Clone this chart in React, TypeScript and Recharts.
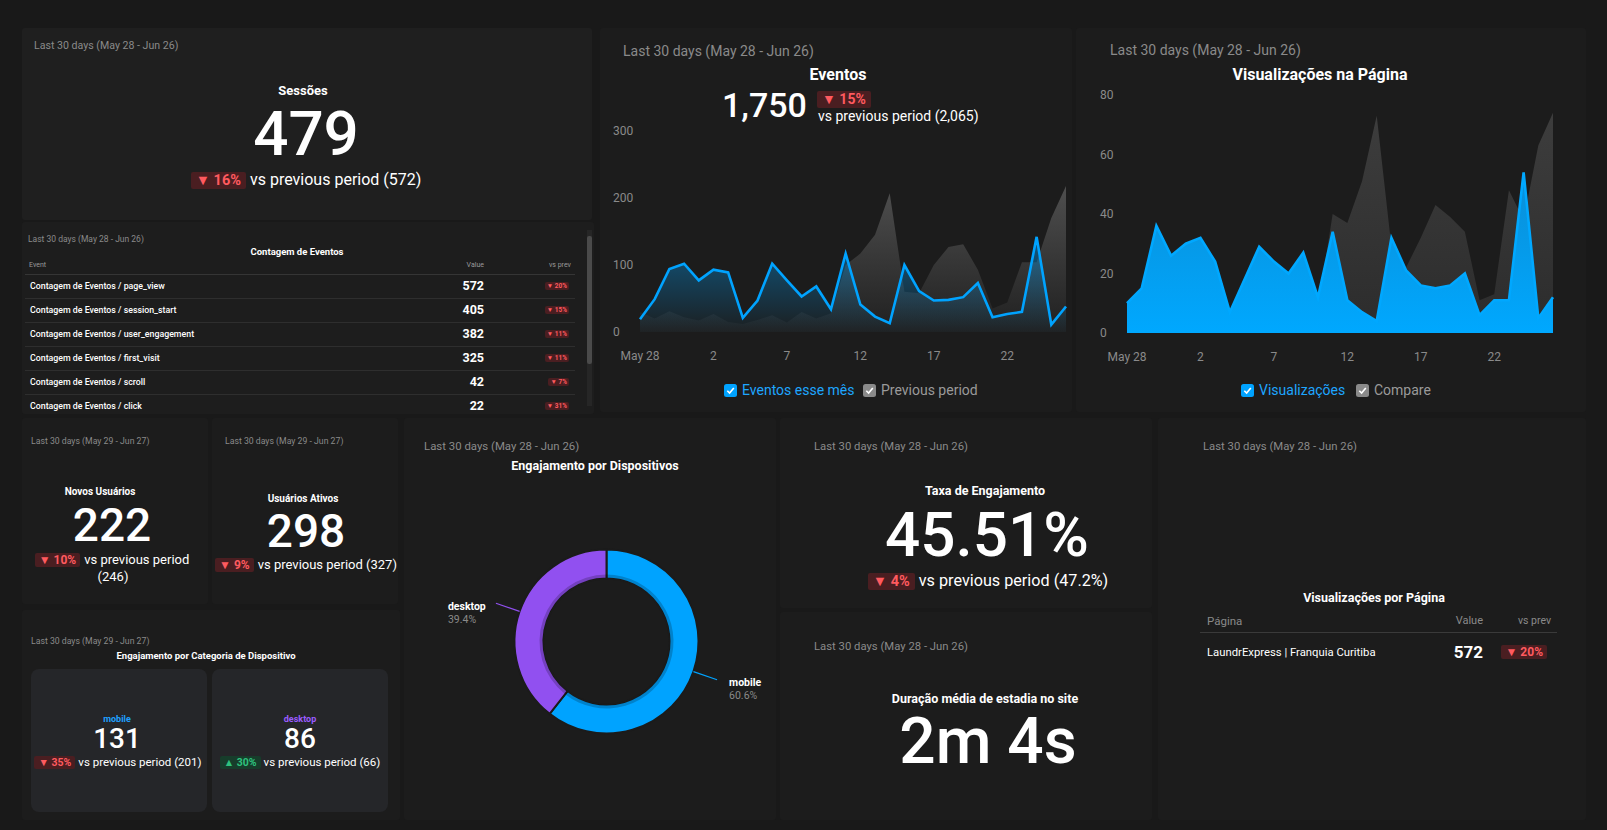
import React from 'react'
import { AreaChart, Area, XAxis, YAxis, PieChart, Pie, Cell } from 'recharts'

const FONT = 'Roboto, "Noto Sans", sans-serif'
const BLUE = '#00a3ff'
const PURPLE = '#9150f0'
const MUTED = '#8a8a8a'
const PAGE_BG = '#191919'
const CARD_BG = '#1c1c1c'

// daily series, May 28 - Jun 26
const dias = [
  'May 28', 'May 29', 'May 30', 'May 31',
  'Jun 1', 'Jun 2', 'Jun 3', 'Jun 4', 'Jun 5', 'Jun 6', 'Jun 7', 'Jun 8', 'Jun 9', 'Jun 10',
  'Jun 11', 'Jun 12', 'Jun 13', 'Jun 14', 'Jun 15', 'Jun 16', 'Jun 17', 'Jun 18', 'Jun 19', 'Jun 20',
  'Jun 21', 'Jun 22', 'Jun 23', 'Jun 24', 'Jun 25', 'Jun 26',
]
const eventosMes = [19, 49, 94, 102, 77, 93, 89, 21, 47, 102, 77, 53, 68, 34, 117, 41, 23, 13, 100, 61, 47, 48, 52, 73, 22, 27, 30, 142, 11, 38]
const eventosAnterior = [30, 20, 31, 22, 17, 27, 15, 12, 18, 25, 14, 30, 20, 28, 100, 117, 145, 207, 60, 58, 100, 127, 131, 93, 35, 44, 104, 104, 170, 218]
const visualizacoes = [10, 15, 36, 26, 30, 32, 24, 7, 18, 29, 24, 20, 27, 12, 34, 11, 7, 4, 32, 21, 16, 15, 16, 20, 6, 11, 11, 54, 5, 12]
const visualizacoesAnterior = [8, 6, 10, 5, 9, 7, 6, 4, 8, 7, 5, 9, 6, 8, 40, 37, 51, 73, 29, 22, 32, 43, 39, 34, 11, 13, 48, 38, 63, 74]
const eventosTicksY = [0, 100, 200, 300]
const visualizacoesTicksY = [0, 20, 40, 60, 80]

// Contagem de Eventos table
const eventoNomes = ['page_view', 'session_start', 'user_engagement', 'first_visit', 'scroll', 'click']
const eventoValores = [572, 405, 382, 325, 42, 22]
const eventoQueda = [20, 15, 11, 11, 7, 31]

// device split
const dispositivos = ['mobile', 'desktop']
const dispositivoPct = [60.6, 39.4]
const dispositivoCores = [BLUE, PURPLE]

const eventosData = dias.map((dia, i) => ({ dia, atual: eventosMes[i], anterior: eventosAnterior[i] }))
const visualizacoesData = dias.map((dia, i) => ({ dia, atual: visualizacoes[i], anterior: visualizacoesAnterior[i] }))
const dispositivosData = dispositivos.map((nome, i) => ({ nome, valor: dispositivoPct[i] }))

const diaLabel = (d: string) => (d === 'May 28' ? d : d.split(' ')[1])

type Anchor = 'start' | 'middle' | 'end'

function T({ x, y, size, anchor = 'start', weight = 400, color = '#fff', lh = 1.3, children }: {
  x: number; y: number; size: number; anchor?: Anchor; weight?: number; color?: string; lh?: number; children: React.ReactNode
}) {
  const h = Math.round(size * lh)
  const style: React.CSSProperties = {
    position: 'absolute', top: y - h / 2, height: h, lineHeight: `${h}px`,
    fontSize: size, fontWeight: weight, color, whiteSpace: 'nowrap', fontFamily: FONT,
  }
  if (anchor === 'start') style.left = x
  else if (anchor === 'middle') { style.left = x - 400; style.width = 800; style.textAlign = 'center' }
  else { style.left = x - 800; style.width = 800; style.textAlign = 'right' }
  return <div style={style}>{children}</div>
}

function Badge({ pct, up = false, size }: { pct: number; up?: boolean; size: number }) {
  return (
    <span style={{
      display: 'inline-block', background: up ? '#173d2b' : '#4a1e21', color: up ? '#2ec27e' : '#ff5a5f',
      fontWeight: 700, fontSize: size, lineHeight: `${Math.round(size * 1.2)}px`,
      padding: `0 ${Math.round(size * 0.35)}px`, borderRadius: 2, marginRight: Math.round(size * 0.3),
    }}>
      {up ? '▲' : '▼'} {pct}%
    </span>
  )
}

function Card({ x, y, w, h, bg = CARD_BG }: { x: number; y: number; w: number; h: number; bg?: string }) {
  return <div style={{ position: 'absolute', left: x, top: y, width: w, height: h, background: bg, borderRadius: 3 }} />
}

function Check({ x, y, color, label, textColor }: { x: number; y: number; color: string; label: string; textColor: string }) {
  return (
    <div style={{ position: 'absolute', left: x, top: y - 8, height: 16, display: 'flex', alignItems: 'center', fontFamily: FONT }}>
      <svg width={13} height={13} style={{ marginRight: 5 }}>
        <rect x={0} y={0} width={13} height={13} rx={2.5} fill={color} />
        <path d="M3.3 6.8 L5.6 9.1 L9.8 3.9" stroke="#fff" strokeWidth={1.6} fill="none" />
      </svg>
      <span style={{ color: textColor, fontSize: 14 }}>{label}</span>
    </div>
  )
}

const yTick = (labelX: number) => (p: any) => (
  <text x={labelX} y={p.y} dy={4} fill={MUTED} fontSize={12} fontFamily={FONT} textAnchor="start">
    {p.payload.value}
  </text>
)

function EventosChart() {
  return (
    <div style={{ position: 'absolute', left: 600, top: 110 }}>
      <AreaChart width={480} height={270} data={eventosData} margin={{ top: 21, right: 14, bottom: 18, left: 0 }}>
        <defs>
          <linearGradient id="gEvAtual" x1="0" y1="0" x2="0" y2="1">
            <stop offset="0%" stopColor={BLUE} stopOpacity={0.45} />
            <stop offset="100%" stopColor={BLUE} stopOpacity={0.02} />
          </linearGradient>
          <linearGradient id="gEvAnterior" x1="0" y1="0" x2="0" y2="1">
            <stop offset="0%" stopColor="#6a6a6a" stopOpacity={0.65} />
            <stop offset="100%" stopColor="#6a6a6a" stopOpacity={0.05} />
          </linearGradient>
        </defs>
        <XAxis dataKey="dia" interval={4} axisLine={false} tickLine={false} tickSize={0} tickMargin={19} height={30}
          tickFormatter={diaLabel} tick={{ fill: MUTED, fontSize: 12, fontFamily: FONT }} />
        <YAxis domain={[0, 300]} ticks={eventosTicksY} width={40} axisLine={false} tickLine={false} tickSize={0}
          tick={yTick(13)} />
        <Area type="linear" dataKey="anterior" stroke="none" fill="url(#gEvAnterior)" fillOpacity={1} isAnimationActive={false} />
        <Area type="linear" dataKey="atual" stroke={BLUE} strokeWidth={2.6} fill="url(#gEvAtual)" fillOpacity={1} isAnimationActive={false} />
      </AreaChart>
    </div>
  )
}

function VisualizacoesChart() {
  return (
    <div style={{ position: 'absolute', left: 1090, top: 80 }}>
      <AreaChart width={480} height={295} data={visualizacoesData} margin={{ top: 15, right: 17, bottom: 15, left: 0 }}>
        <defs>
          <linearGradient id="gVisAtual" x1="0" y1="0" x2="0" y2="1">
            <stop offset="0%" stopColor="#0a8ed6" />
            <stop offset="100%" stopColor="#00a8ff" />
          </linearGradient>
          <linearGradient id="gVisAnterior" x1="0" y1="0" x2="0" y2="1">
            <stop offset="0%" stopColor="#3d3d3d" />
            <stop offset="100%" stopColor="#2c2c2c" />
          </linearGradient>
        </defs>
        <XAxis dataKey="dia" interval={4} axisLine={false} tickLine={false} tickSize={0} tickMargin={19} height={27}
          tickFormatter={diaLabel} tick={{ fill: MUTED, fontSize: 12, fontFamily: FONT }} />
        <YAxis domain={[0, 80]} ticks={visualizacoesTicksY} width={37} axisLine={false} tickLine={false} tickSize={0}
          tick={yTick(10)} />
        <Area type="linear" dataKey="anterior" stroke="none" fill="url(#gVisAnterior)" fillOpacity={1} isAnimationActive={false} />
        <Area type="linear" dataKey="atual" stroke="#00a8ff" strokeWidth={2.6} fill="url(#gVisAtual)" fillOpacity={1} isAnimationActive={false} />
      </AreaChart>
    </div>
  )
}

const RADIAN = Math.PI / 180

function rotuloDispositivo(p: any) {
  const { cx, cy, midAngle, outerRadius, index } = p
  const cos = Math.cos(-midAngle * RADIAN)
  const sin = Math.sin(-midAngle * RADIAN)
  const sx = cx + outerRadius * cos
  const sy = cy + outerRadius * sin
  const ex = cx + (outerRadius + 25) * cos
  const ey = cy + (outerRadius + 25) * sin
  const right = cos >= 0
  const tx = right ? ex + 12 : ex - 12 - 36
  return (
    <g key={`rot-${index}`}>
      <line x1={sx} y1={sy} x2={ex} y2={ey} stroke={dispositivoCores[index]} strokeWidth={1.2} />
      <text x={tx} y={ey + 6.7} fill="#fff" fontSize={10.5} fontWeight={700} fontFamily={FONT}>{dispositivos[index]}</text>
      <text x={tx} y={ey + 19.7} fill={MUTED} fontSize={10.5} fontFamily={FONT}>{dispositivoPct[index]}%</text>
    </g>
  )
}

function DispositivosDonut() {
  return (
    <div style={{ position: 'absolute', left: 403, top: 418 }}>
      <PieChart width={372} height={400}>
        <Pie data={dispositivosData} dataKey="valor" nameKey="nome" cx={198.5} cy={218.5} innerRadius={63} outerRadius={92}
          startAngle={90} endAngle={-270} stroke="#1b1b1b" strokeWidth={2} label={rotuloDispositivo} labelLine={false}
          isAnimationActive={false}>
          {dispositivosData.map((d, i) => <Cell key={d.nome} fill={dispositivoCores[i]} />)}
        </Pie>
        <Pie data={dispositivosData} dataKey="valor" cx={198.5} cy={218.5} innerRadius={63.5} outerRadius={67}
          startAngle={90} endAngle={-270} stroke="none" isAnimationActive={false}>
          {dispositivosData.map((d) => <Cell key={d.nome} fill="#000" fillOpacity={0.2} />)}
        </Pie>
      </PieChart>
    </div>
  )
}

function TabelaEventos() {
  return (
    <div style={{ position: 'absolute', left: 22, top: 222, width: 572, height: 192, overflow: 'hidden' }}>
      <div style={{ position: 'absolute', left: -22, top: -222, width: 1607, height: 830 }}>
        <T x={28} y={239} size={8.5} color={MUTED}>Last 30 days (May 28 - Jun 26)</T>
        <T x={297} y={252} size={9.5} weight={700} anchor="middle">Contagem de Eventos</T>
        <T x={29} y={265} size={7} color="#9a9a9a">Event</T>
        <T x={484} y={265} size={7} color="#9a9a9a" anchor="end">Value</T>
        <T x={571} y={265} size={7} color="#9a9a9a" anchor="end">vs prev</T>
        <div style={{ position: 'absolute', left: 25, top: 274, width: 550, height: 1, background: '#353535' }} />
        {eventoNomes.map((nome, i) => (
          <React.Fragment key={nome}>
            <T x={30} y={286 + i * 24} size={8.8} weight={500}>Contagem de Eventos / {nome}</T>
            <T x={484} y={286 + i * 24} size={12.5} weight={700} anchor="end">{eventoValores[i]}</T>
            <T x={571} y={286 + i * 24} size={6.5} anchor="end"><Badge pct={eventoQueda[i]} size={6.5} /></T>
            {i < eventoNomes.length - 1 && (
              <div style={{ position: 'absolute', left: 25, top: 298 + i * 24, width: 550, height: 1, background: '#2e2e2e' }} />
            )}
          </React.Fragment>
        ))}
        <div style={{ position: 'absolute', left: 587, top: 230, width: 5, height: 176, background: '#262626' }} />
        <div style={{ position: 'absolute', left: 587, top: 236, width: 5, height: 128, background: '#4a4a4a', borderRadius: 2 }} />
      </div>
    </div>
  )
}

export default function App() {
  return (
    <div style={{ position: 'fixed', left: 0, top: 0, width: 1607, height: 830, background: PAGE_BG, fontFamily: FONT, overflow: 'hidden' }}>
      <Card x={22} y={28} w={570} h={192} bg="#1f1f1f" />
      <Card x={22} y={222} w={572} h={192} bg="#1d1d1d" />
      <Card x={600} y={28} w={472} h={384} />
      <Card x={1076} y={28} w={510} h={384} />
      <Card x={22} y={418} w={186} h={186} />
      <Card x={212} y={418} w={186} h={186} />
      <Card x={22} y={610} w={378} h={210} />
      <Card x={404} y={418} w={372} h={402} />
      <Card x={780} y={418} w={372} h={190} />
      <Card x={780} y={612} w={372} h={208} />
      <Card x={1158} y={418} w={428} h={402} />

      {/* Sessões */}
      <T x={34} y={46} size={10.6} color={MUTED}>Last 30 days (May 28 - Jun 26)</T>
      <T x={303} y={90} size={13} weight={700} anchor="middle">Sessões</T>
      <T x={306} y={134} size={62} weight={500} anchor="middle" lh={1}>479</T>
      <T x={306} y={179} size={16} anchor="middle"><Badge pct={16} size={14.5} />vs previous period (572)</T>

      <TabelaEventos />

      {/* Eventos */}
      <T x={623} y={51} size={14} color={MUTED}>Last 30 days (May 28 - Jun 26)</T>
      <T x={838} y={74} size={16} weight={700} anchor="middle">Eventos</T>
      <T x={722} y={105} size={34} weight={500}>1,750</T>
      <T x={817} y={99} size={14}><Badge pct={15} size={14} /></T>
      <T x={818} y={116} size={14}>vs previous period (2,065)</T>
      <EventosChart />
      <Check x={724} y={390} color={BLUE} label="Eventos esse mês" textColor="#1ea6ff" />
      <Check x={863} y={390} color="#8a8a8a" label="Previous period" textColor="#9a9a9a" />

      {/* Visualizações na Página */}
      <T x={1110} y={50} size={14} color={MUTED}>Last 30 days (May 28 - Jun 26)</T>
      <T x={1320} y={74} size={16} weight={700} anchor="middle">Visualizações na Página</T>
      <VisualizacoesChart />
      <Check x={1241} y={390} color={BLUE} label="Visualizações" textColor="#1ea6ff" />
      <Check x={1356} y={390} color="#8a8a8a" label="Compare" textColor="#9a9a9a" />

      {/* Novos Usuários */}
      <T x={31} y={441} size={8.7} color={MUTED}>Last 30 days (May 29 - Jun 27)</T>
      <T x={100} y={491} size={10} weight={700} anchor="middle">Novos Usuários</T>
      <T x={112} y={525} size={46} weight={500} anchor="middle" lh={1}>222</T>
      <T x={112} y={559} size={13} anchor="middle"><Badge pct={10} size={12} />vs previous period</T>
      <T x={113} y={576} size={13} anchor="middle">(246)</T>

      {/* Usuários Ativos */}
      <T x={225} y={441} size={8.7} color={MUTED}>Last 30 days (May 29 - Jun 27)</T>
      <T x={303} y={498} size={10} weight={700} anchor="middle">Usuários Ativos</T>
      <T x={306} y={531} size={46} weight={500} anchor="middle" lh={1}>298</T>
      <T x={306} y={564} size={13} anchor="middle"><Badge pct={9} size={12} />vs previous period (327)</T>

      {/* Engajamento por Categoria de Dispositivo */}
      <T x={31} y={641} size={8.7} color={MUTED}>Last 30 days (May 29 - Jun 27)</T>
      <T x={206} y={656} size={9.5} weight={700} anchor="middle">Engajamento por Categoria de Dispositivo</T>
      <div style={{ position: 'absolute', left: 31, top: 669, width: 176, height: 143, background: '#252629', borderRadius: 8 }} />
      <div style={{ position: 'absolute', left: 212, top: 669, width: 176, height: 143, background: '#252629', borderRadius: 8 }} />
      <T x={117} y={719} size={9} weight={700} color="#1ea0ff" anchor="middle" lh={1.1}>mobile</T>
      <T x={117} y={739} size={28} weight={500} anchor="middle" lh={0.85}>131</T>
      <T x={118} y={762} size={11.5} anchor="middle"><Badge pct={35} size={10.5} />vs previous period (201)</T>
      <T x={300} y={719} size={9} weight={700} color="#9b5cff" anchor="middle" lh={1.1}>desktop</T>
      <T x={300} y={739} size={28} weight={500} anchor="middle" lh={0.85}>86</T>
      <T x={300} y={762} size={11.5} anchor="middle"><Badge pct={30} up size={10.5} />vs previous period (66)</T>

      {/* Engajamento por Dispositivos */}
      <T x={424} y={446} size={11.4} color={MUTED}>Last 30 days (May 28 - Jun 26)</T>
      <T x={595} y={466} size={12.5} weight={700} anchor="middle">Engajamento por Dispositivos</T>
      <DispositivosDonut />

      {/* Taxa de Engajamento */}
      <T x={814} y={446} size={11.3} color={MUTED}>Last 30 days (May 28 - Jun 26)</T>
      <T x={985} y={491} size={12.5} weight={700} anchor="middle">Taxa de Engajamento</T>
      <T x={987} y={535} size={62} weight={500} anchor="middle" lh={1}>45.51%</T>
      <T x={988} y={580} size={16.2} anchor="middle"><Badge pct={4} size={14.5} />vs previous period (47.2%)</T>

      {/* Duração média */}
      <T x={814} y={646} size={11.3} color={MUTED}>Last 30 days (May 28 - Jun 26)</T>
      <T x={985} y={699} size={12.5} weight={700} anchor="middle">Duração média de estadia no site</T>
      <T x={988} y={742} size={64} weight={500} anchor="middle" lh={1}>2m 4s</T>

      {/* Visualizações por Página */}
      <T x={1203} y={446} size={11.3} color={MUTED}>Last 30 days (May 28 - Jun 26)</T>
      <T x={1374} y={598} size={12.5} weight={700} anchor="middle">Visualizações por Página</T>
      <T x={1207} y={621} size={11.5} color={MUTED}>Página</T>
      <T x={1483} y={621} size={11} color={MUTED} anchor="end">Value</T>
      <T x={1551} y={621} size={10.5} color={MUTED} anchor="end">vs prev</T>
      <div style={{ position: 'absolute', left: 1200, top: 632, width: 357, height: 1, background: '#3a3a3a' }} />
      <T x={1207} y={652} size={11.3}>LaundrExpress | Franquia Curitiba</T>
      <T x={1483} y={652} size={17} weight={700} anchor="end">572</T>
      <T x={1551} y={652} size={12} anchor="end"><Badge pct={20} size={12} /></T>
    </div>
  )
}
